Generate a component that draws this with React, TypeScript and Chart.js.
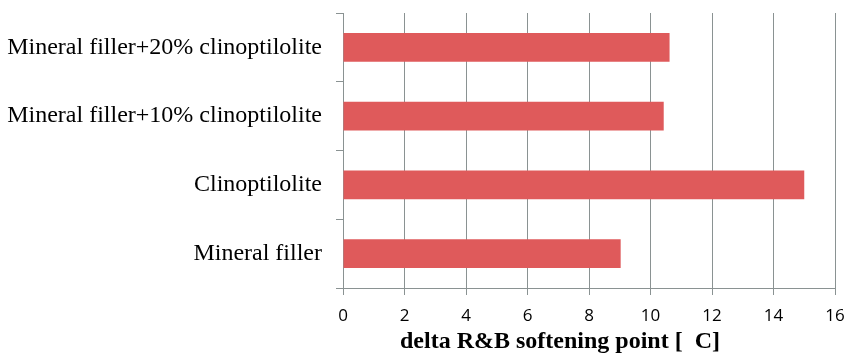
import React, { useEffect, useRef } from "react";
import { Chart, registerables } from "chart.js";

Chart.register(...registerables);

const categories = [
  "Mineral filler+20% clinoptilolite",
  "Mineral filler+10% clinoptilolite",
  "Clinoptilolite",
  "Mineral filler",
];
const values = [10.62, 10.43, 15.0, 9.03];
const xTicks = [0, 2, 4, 6, 8, 10, 12, 14, 16];
const xTitle = "delta R&B softening point [  C]";

const axisTitlePlugin = {
  id: "axisTitle",
  afterDraw(chart: any) {
    const { ctx, chartArea } = chart;
    ctx.save();
    ctx.font = "bold 24px 'Liberation Serif'";
    ctx.fillStyle = "#000";
    ctx.textAlign = "center";
    ctx.textBaseline = "alphabetic";
    const cx = (chartArea.left + chartArea.right) / 2 - 29;
    ctx.fillText(xTitle, cx, chartArea.bottom + 60);
    ctx.restore();
  },
};

export default function App() {
  const ref = useRef<HTMLCanvasElement | null>(null);
  useEffect(() => {
    document.body.style.margin = "0";
    const gray = "#8a9292";
    const chart = new Chart(ref.current!, {
      type: "bar",
      data: {
        labels: categories,
        datasets: [
          {
            data: values,
            backgroundColor: "#df5a5b",
            borderWidth: 0,
            categoryPercentage: 1,
            barPercentage: 0.42,
          },
        ],
      },
      plugins: [axisTitlePlugin],
      options: {
        indexAxis: "y",
        animation: false,
        responsive: false,
        maintainAspectRatio: false,
        layout: { padding: { top: 13, right: 16, left: 0, bottom: 0 } },
        plugins: { legend: { display: false }, tooltip: { enabled: false } },
        scales: {
          x: {
            min: 0,
            max: 16,
            afterBuildTicks: (s: any) => {
              s.ticks = xTicks.map((v) => ({ value: v }));
            },
            afterFit: (s: any) => {
              s.height = 66;
              s.paddingLeft = 0;
              s.paddingRight = 0;
            },
            grid: {
              color: gray,
              lineWidth: 1,
              tickLength: 7,
              drawOnChartArea: true,
            },
            border: { color: gray, width: 1 },
            ticks: {
              color: "#000",
              font: { family: "Open Sans", size: 17 },
              padding: 11,
              maxRotation: 0,
            },
          },
          y: {
            offset: true,
            afterFit: (s: any) => {
              s.width = 343;
              s.paddingTop = 0;
              s.paddingBottom = 0;
            },
            grid: {
              offset: true,
              drawOnChartArea: false,
              drawTicks: true,
              tickLength: 7,
              color: gray,
            },
            border: { color: gray, width: 1 },
            ticks: {
              color: "#000",
              font: { family: "Liberation Serif", size: 24 },
              padding: 14,
            },
          },
        },
      },
    });
    return () => chart.destroy();
  }, []);
  return <canvas ref={ref} width={851} height={354} style={{ display: "block" }} />;
}
